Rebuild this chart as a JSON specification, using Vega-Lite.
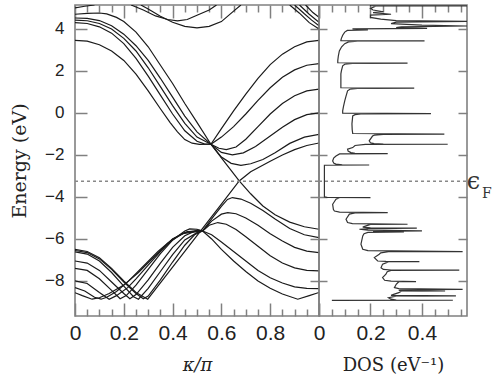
{
 "$schema": "https://vega.github.io/schema/vega-lite/v6.json",
 "autosize": {"type": "pad"},
 "padding": {"left": 9, "top": 3, "right": 5, "bottom": 2},
 "spacing": 0,
 "bounds": "flush",
 "background": "white",
 "config": {
  "view": {"stroke": "#808080", "strokeWidth": 1.6},
  "axis": {"domain": false, "grid": false, "tickColor": "#808080", "tickWidth": 1.5, "labelFont": "Liberation Sans", "labelFontSize": 17, "labelColor": "#222", "titleFont": "DejaVu Serif", "titleFontSize": 18, "titleFontWeight": "normal", "titleColor": "#222", "labelOverlap": false, "labelFlush": false}
 },
 "datasets": {
  "bands": [
   {"b":"D1","k":0,"E":3.46},{"b":"D1","k":0.05,"E":3.42},{"b":"D1","k":0.1,"E":3.25},{"b":"D1","k":0.15,"E":2.95},{"b":"D1","k":0.2,"E":2.5},{"b":"D1","k":0.25,"E":1.85},{"b":"D1","k":0.3,"E":1.05},{"b":"D1","k":0.35,"E":0.2},{"b":"D1","k":0.39,"E":-0.46},{"b":"D1","k":0.42,"E":-0.9},{"b":"D1","k":0.45,"E":-1.27},{"b":"D1","k":0.48,"E":-1.44},{"b":"D1","k":0.51,"E":-1.5},{"b":"D1","k":0.557,"E":-1.49},
   {"b":"D2","k":0,"E":4.3},{"b":"D2","k":0.05,"E":4.26},{"b":"D2","k":0.1,"E":4.1},{"b":"D2","k":0.15,"E":3.8},{"b":"D2","k":0.2,"E":3.3},{"b":"D2","k":0.25,"E":2.6},{"b":"D2","k":0.3,"E":1.75},{"b":"D2","k":0.35,"E":0.85},{"b":"D2","k":0.4,"E":-0.05},{"b":"D2","k":0.45,"E":-0.85},{"b":"D2","k":0.5,"E":-1.35},{"b":"D2","k":0.53,"E":-1.47},{"b":"D2","k":0.557,"E":-1.49},
   {"b":"D3","k":0,"E":4.42},{"b":"D3","k":0.05,"E":4.39},{"b":"D3","k":0.1,"E":4.26},{"b":"D3","k":0.15,"E":4.0},{"b":"D3","k":0.2,"E":3.55},{"b":"D3","k":0.25,"E":2.95},{"b":"D3","k":0.3,"E":2.15},{"b":"D3","k":0.35,"E":1.25},{"b":"D3","k":0.4,"E":0.35},{"b":"D3","k":0.45,"E":-0.5},{"b":"D3","k":0.5,"E":-1.15},{"b":"D3","k":0.557,"E":-1.49},
   {"b":"D4","k":0,"E":4.52},{"b":"D4","k":0.05,"E":4.5},{"b":"D4","k":0.1,"E":4.4},{"b":"D4","k":0.15,"E":4.15},{"b":"D4","k":0.2,"E":3.75},{"b":"D4","k":0.25,"E":3.2},{"b":"D4","k":0.3,"E":2.5},{"b":"D4","k":0.35,"E":1.65},{"b":"D4","k":0.4,"E":0.75},{"b":"D4","k":0.45,"E":-0.15},{"b":"D4","k":0.5,"E":-0.9},{"b":"D4","k":0.557,"E":-1.49},
   {"b":"Lc","k":0,"E":4.7},{"b":"Lc","k":0.05,"E":4.74},{"b":"Lc","k":0.1,"E":4.76},{"b":"Lc","k":0.13,"E":4.72},{"b":"Lc","k":0.17,"E":4.55},{"b":"Lc","k":0.2,"E":4.35},{"b":"Lc","k":0.25,"E":3.85},{"b":"Lc","k":0.3,"E":3.15},{"b":"Lc","k":0.34,"E":2.45},{"b":"Lc","k":0.4,"E":1.4},{"b":"Lc","k":0.45,"E":0.45},{"b":"Lc","k":0.5,"E":-0.45},{"b":"Lc","k":0.557,"E":-1.49},{"b":"Lc","k":0.615,"E":-2.37},{"b":"Lc","k":0.673,"E":-3.24},{"b":"Lc","k":0.72,"E":-3.85},{"b":"Lc","k":0.77,"E":-4.43},{"b":"Lc","k":0.82,"E":-4.85},{"b":"Lc","k":0.88,"E":-5.2},{"b":"Lc","k":0.94,"E":-5.42},{"b":"Lc","k":1,"E":-5.54},
   {"b":"R1","k":0.557,"E":-1.49},{"b":"R1","k":0.6,"E":-0.75},{"b":"R1","k":0.65,"E":0.1},{"b":"R1","k":0.7,"E":0.9},{"b":"R1","k":0.75,"E":1.65},{"b":"R1","k":0.8,"E":2.3},{"b":"R1","k":0.85,"E":2.8},{"b":"R1","k":0.9,"E":3.15},{"b":"R1","k":0.95,"E":3.38},{"b":"R1","k":1,"E":3.46},
   {"b":"R2","k":0.557,"E":-1.49},{"b":"R2","k":0.6,"E":-1.15},{"b":"R2","k":0.65,"E":-0.65},{"b":"R2","k":0.7,"E":-0.05},{"b":"R2","k":0.75,"E":0.6},{"b":"R2","k":0.8,"E":1.2},{"b":"R2","k":0.85,"E":1.7},{"b":"R2","k":0.9,"E":2.05},{"b":"R2","k":0.95,"E":2.27},{"b":"R2","k":1,"E":2.35},
   {"b":"R3","k":0.557,"E":-1.49},{"b":"R3","k":0.59,"E":-1.68},{"b":"R3","k":0.62,"E":-1.75},{"b":"R3","k":0.66,"E":-1.62},{"b":"R3","k":0.7,"E":-1.25},{"b":"R3","k":0.75,"E":-0.65},{"b":"R3","k":0.8,"E":-0.05},{"b":"R3","k":0.85,"E":0.45},{"b":"R3","k":0.9,"E":0.82},{"b":"R3","k":0.95,"E":1.05},{"b":"R3","k":1,"E":1.13},
   {"b":"R4","k":0.557,"E":-1.49},{"b":"R4","k":0.6,"E":-1.88},{"b":"R4","k":0.645,"E":-2.0},{"b":"R4","k":0.69,"E":-1.9},{"b":"R4","k":0.74,"E":-1.6},{"b":"R4","k":0.8,"E":-1.1},{"b":"R4","k":0.85,"E":-0.68},{"b":"R4","k":0.9,"E":-0.32},{"b":"R4","k":0.95,"E":-0.08},{"b":"R4","k":1,"E":0.0},
   {"b":"R5","k":0.557,"E":-1.49},{"b":"R5","k":0.6,"E":-2.1},{"b":"R5","k":0.64,"E":-2.4},{"b":"R5","k":0.68,"E":-2.5},{"b":"R5","k":0.72,"E":-2.42},{"b":"R5","k":0.77,"E":-2.22},{"b":"R5","k":0.82,"E":-1.9},{"b":"R5","k":0.88,"E":-1.45},{"b":"R5","k":0.94,"E":-1.15},{"b":"R5","k":1,"E":-1.02},
   {"b":"Lv","k":0,"E":-6.5},{"b":"Lv","k":0.05,"E":-6.6},{"b":"Lv","k":0.1,"E":-6.9},{"b":"Lv","k":0.15,"E":-7.4},{"b":"Lv","k":0.2,"E":-8.0},{"b":"Lv","k":0.25,"E":-8.55},{"b":"Lv","k":0.298,"E":-8.87},{"b":"Lv","k":0.35,"E":-8.09},{"b":"Lv","k":0.4,"E":-7.34},{"b":"Lv","k":0.45,"E":-6.59},{"b":"Lv","k":0.5,"E":-5.84},{"b":"Lv","k":0.523,"E":-5.5},{"b":"Lv","k":0.6,"E":-4.34},{"b":"Lv","k":0.673,"E":-3.24},{"b":"Lv","k":0.72,"E":-2.8},{"b":"Lv","k":0.76,"E":-2.55},{"b":"Lv","k":0.8,"E":-2.3},{"b":"Lv","k":0.85,"E":-2.0},{"b":"Lv","k":0.9,"E":-1.75},{"b":"Lv","k":0.95,"E":-1.55},{"b":"Lv","k":1,"E":-1.43},
   {"b":"VR1","k":0.523,"E":-5.62},{"b":"VR1","k":0.56,"E":-5.05},{"b":"VR1","k":0.6,"E":-4.45},{"b":"VR1","k":0.625,"E":-4.12},{"b":"VR1","k":0.645,"E":-4.03},{"b":"VR1","k":0.68,"E":-4.1},{"b":"VR1","k":0.72,"E":-4.3},{"b":"VR1","k":0.77,"E":-4.65},{"b":"VR1","k":0.82,"E":-5.05},{"b":"VR1","k":0.88,"E":-5.5},{"b":"VR1","k":0.94,"E":-5.8},{"b":"VR1","k":1,"E":-5.94},
   {"b":"VR2","k":0.523,"E":-5.62},{"b":"VR2","k":0.56,"E":-5.15},{"b":"VR2","k":0.6,"E":-4.82},{"b":"VR2","k":0.626,"E":-4.75},{"b":"VR2","k":0.66,"E":-4.8},{"b":"VR2","k":0.7,"E":-5.0},{"b":"VR2","k":0.75,"E":-5.35},{"b":"VR2","k":0.8,"E":-5.75},{"b":"VR2","k":0.85,"E":-6.1},{"b":"VR2","k":0.9,"E":-6.4},{"b":"VR2","k":0.95,"E":-6.58},{"b":"VR2","k":1,"E":-6.65},
   {"b":"VR3","k":0.523,"E":-5.62},{"b":"VR3","k":0.55,"E":-5.35},{"b":"VR3","k":0.585,"E":-5.22},{"b":"VR3","k":0.62,"E":-5.3},{"b":"VR3","k":0.66,"E":-5.55},{"b":"VR3","k":0.7,"E":-5.9},{"b":"VR3","k":0.75,"E":-6.35},{"b":"VR3","k":0.8,"E":-6.8},{"b":"VR3","k":0.85,"E":-7.15},{"b":"VR3","k":0.9,"E":-7.38},{"b":"VR3","k":0.95,"E":-7.5},{"b":"VR3","k":1,"E":-7.52},
   {"b":"VR4","k":0.523,"E":-5.62},{"b":"VR4","k":0.56,"E":-5.8},{"b":"VR4","k":0.6,"E":-6.15},{"b":"VR4","k":0.65,"E":-6.6},{"b":"VR4","k":0.7,"E":-7.05},{"b":"VR4","k":0.75,"E":-7.5},{"b":"VR4","k":0.8,"E":-7.85},{"b":"VR4","k":0.85,"E":-8.1},{"b":"VR4","k":0.9,"E":-8.28},{"b":"VR4","k":0.95,"E":-8.35},{"b":"VR4","k":1,"E":-8.37},
   {"b":"VR5","k":0.523,"E":-5.62},{"b":"VR5","k":0.56,"E":-6.0},{"b":"VR5","k":0.6,"E":-6.5},{"b":"VR5","k":0.65,"E":-7.05},{"b":"VR5","k":0.7,"E":-7.55},{"b":"VR5","k":0.75,"E":-8.0},{"b":"VR5","k":0.8,"E":-8.35},{"b":"VR5","k":0.85,"E":-8.62},{"b":"VR5","k":0.913,"E":-8.87},{"b":"VR5","k":0.96,"E":-8.7},{"b":"VR5","k":1,"E":-8.55},
   {"b":"VL1","k":0,"E":-6.55},{"b":"VL1","k":0.05,"E":-6.65},{"b":"VL1","k":0.1,"E":-6.95},{"b":"VL1","k":0.15,"E":-7.45},{"b":"VL1","k":0.2,"E":-8.05},{"b":"VL1","k":0.25,"E":-8.6},{"b":"VL1","k":0.28,"E":-8.85},{"b":"VL1","k":0.3,"E":-8.72},{"b":"VL1","k":0.35,"E":-7.95},{"b":"VL1","k":0.4,"E":-7.1},{"b":"VL1","k":0.45,"E":-6.3},{"b":"VL1","k":0.49,"E":-5.8},{"b":"VL1","k":0.523,"E":-5.62},
   {"b":"VL2","k":0,"E":-6.62},{"b":"VL2","k":0.05,"E":-6.72},{"b":"VL2","k":0.1,"E":-7.05},{"b":"VL2","k":0.15,"E":-7.6},{"b":"VL2","k":0.2,"E":-8.25},{"b":"VL2","k":0.24,"E":-8.75},{"b":"VL2","k":0.26,"E":-8.87},{"b":"VL2","k":0.3,"E":-8.35},{"b":"VL2","k":0.35,"E":-7.55},{"b":"VL2","k":0.4,"E":-6.75},{"b":"VL2","k":0.45,"E":-6.05},{"b":"VL2","k":0.5,"E":-5.7},{"b":"VL2","k":0.523,"E":-5.62},
   {"b":"VL3","k":0,"E":-7.05},{"b":"VL3","k":0.05,"E":-7.15},{"b":"VL3","k":0.1,"E":-7.5},{"b":"VL3","k":0.15,"E":-8.05},{"b":"VL3","k":0.2,"E":-8.6},{"b":"VL3","k":0.225,"E":-8.85},{"b":"VL3","k":0.25,"E":-8.65},{"b":"VL3","k":0.3,"E":-7.95},{"b":"VL3","k":0.35,"E":-7.15},{"b":"VL3","k":0.4,"E":-6.4},{"b":"VL3","k":0.45,"E":-5.85},{"b":"VL3","k":0.5,"E":-5.58},{"b":"VL3","k":0.523,"E":-5.62},
   {"b":"VL4","k":0,"E":-7.4},{"b":"VL4","k":0.05,"E":-7.5},{"b":"VL4","k":0.1,"E":-7.9},{"b":"VL4","k":0.15,"E":-8.45},{"b":"VL4","k":0.185,"E":-8.85},{"b":"VL4","k":0.21,"E":-8.7},{"b":"VL4","k":0.25,"E":-8.2},{"b":"VL4","k":0.3,"E":-7.45},{"b":"VL4","k":0.35,"E":-6.7},{"b":"VL4","k":0.4,"E":-6.05},{"b":"VL4","k":0.45,"E":-5.62},{"b":"VL4","k":0.47,"E":-5.52},{"b":"VL4","k":0.5,"E":-5.54},{"b":"VL4","k":0.523,"E":-5.62},
   {"b":"VL5","k":0,"E":-8.0},{"b":"VL5","k":0.05,"E":-8.12},{"b":"VL5","k":0.1,"E":-8.55},{"b":"VL5","k":0.14,"E":-8.87},{"b":"VL5","k":0.17,"E":-8.7},{"b":"VL5","k":0.216,"E":-8.32},{"b":"VL5","k":0.25,"E":-7.9},{"b":"VL5","k":0.3,"E":-7.25},{"b":"VL5","k":0.35,"E":-6.6},{"b":"VL5","k":0.4,"E":-6.0},{"b":"VL5","k":0.45,"E":-5.7},{"b":"VL5","k":0.5,"E":-5.6},{"b":"VL5","k":0.523,"E":-5.62},
   {"b":"VL6","k":0,"E":-8.32},{"b":"VL6","k":0.04,"E":-8.48},{"b":"VL6","k":0.08,"E":-8.78},{"b":"VL6","k":0.107,"E":-8.87},{"b":"VL6","k":0.13,"E":-8.78},{"b":"VL6","k":0.17,"E":-8.5},{"b":"VL6","k":0.22,"E":-8.0},{"b":"VL6","k":0.28,"E":-7.3},{"b":"VL6","k":0.34,"E":-6.6},{"b":"VL6","k":0.4,"E":-6.0},{"b":"VL6","k":0.46,"E":-5.65},{"b":"VL6","k":0.523,"E":-5.62},
   {"b":"VL7","k":0,"E":-8.56},{"b":"VL7","k":0.03,"E":-8.7},{"b":"VL7","k":0.07,"E":-8.87},{"b":"VL7","k":0.1,"E":-8.8},{"b":"VL7","k":0.14,"E":-8.6},{"b":"VL7","k":0.2,"E":-8.2},{"b":"VL7","k":0.26,"E":-7.6},{"b":"VL7","k":0.32,"E":-6.9},{"b":"VL7","k":0.38,"E":-6.2},{"b":"VL7","k":0.44,"E":-5.75},{"b":"VL7","k":0.523,"E":-5.62},
   {"b":"T1","k":0.27,"E":5.14},{"b":"T1","k":0.3,"E":4.95},{"b":"T1","k":0.35,"E":4.6},{"b":"T1","k":0.4,"E":4.32},{"b":"T1","k":0.45,"E":4.12},{"b":"T1","k":0.5,"E":4.05},{"b":"T1","k":0.55,"E":4.12},{"b":"T1","k":0.6,"E":4.35},{"b":"T1","k":0.65,"E":4.85},{"b":"T1","k":0.68,"E":5.14},
   {"b":"T2","k":0.23,"E":5.14},{"b":"T2","k":0.28,"E":4.9},{"b":"T2","k":0.33,"E":4.62},{"b":"T2","k":0.38,"E":4.45},{"b":"T2","k":0.42,"E":4.38},{"b":"T2","k":0.46,"E":4.45},{"b":"T2","k":0.5,"E":4.65},{"b":"T2","k":0.55,"E":4.9},{"b":"T2","k":0.58,"E":5.14},
   {"b":"T3","k":0,"E":5.0},{"b":"T3","k":0.04,"E":5.08},{"b":"T3","k":0.08,"E":5.14},
   {"b":"T4","k":0.88,"E":5.14},{"b":"T4","k":0.92,"E":4.75},{"b":"T4","k":0.96,"E":4.3},{"b":"T4","k":1,"E":4.0},
   {"b":"T5","k":0.9,"E":5.14},{"b":"T5","k":0.94,"E":4.72},{"b":"T5","k":0.97,"E":4.42},{"b":"T5","k":1,"E":4.15},
   {"b":"T6","k":0.92,"E":5.14},{"b":"T6","k":0.96,"E":4.7},{"b":"T6","k":1,"E":4.32},
   {"b":"T7","k":0.945,"E":5.14},{"b":"T7","k":0.975,"E":4.78},{"b":"T7","k":1,"E":4.55}
  ],
  "dos": [
   {"E":5.14,"D":0.2},{"E":5.11,"D":0.2},{"E":5.1,"D":0.58},{"E":5.08,"D":0.22},{"E":4.98,"D":0.2},{"E":4.9,"D":0.21},{"E":4.82,"D":0.25},{"E":4.78,"D":0.21},{"E":4.7,"D":0.28},{"E":4.66,"D":0.2},{"E":4.55,"D":0.2},{"E":4.47,"D":0.24},{"E":4.4,"D":0.3},{"E":4.36,"D":0.58},{"E":4.32,"D":0.3},{"E":4.25,"D":0.28},{"E":4.18,"D":0.4},{"E":4.14,"D":0.58},{"E":4.1,"D":0.32},{"E":4.06,"D":0.3},{"E":4.03,"D":0.42},{"E":4.0,"D":0.13},{"E":3.96,"D":0.19},{"E":3.93,"D":0.11},{"E":3.85,"D":0.1},{"E":3.7,"D":0.092},{"E":3.55,"D":0.087},{"E":3.46,"D":0.085},{"E":3.44,"D":0.085},{"E":3.43,"D":0.41},
   {"E":3.42,"D":0.15},{"E":3.38,"D":0.115},{"E":3.3,"D":0.1},{"E":3.15,"D":0.088},{"E":2.95,"D":0.079},{"E":2.7,"D":0.075},{"E":2.5,"D":0.073},{"E":2.39,"D":0.073},{"E":2.37,"D":0.344},
   {"E":2.36,"D":0.13},{"E":2.32,"D":0.1},{"E":2.24,"D":0.092},{"E":2.0,"D":0.087},{"E":1.86,"D":0.085},{"E":1.5,"D":0.085},{"E":1.2,"D":0.085},{"E":1.18,"D":0.37},
   {"E":1.17,"D":0.15},{"E":1.13,"D":0.12},{"E":1.05,"D":0.111},{"E":0.8,"D":0.105},{"E":0.57,"D":0.1},{"E":0.3,"D":0.095},{"E":0.1,"D":0.092},{"E":-0.01,"D":0.092},{"E":-0.03,"D":0.435},
   {"E":-0.04,"D":0.17},{"E":-0.08,"D":0.14},{"E":-0.14,"D":0.131},{"E":-0.52,"D":0.128},{"E":-0.8,"D":0.129},{"E":-0.98,"D":0.131},{"E":-1.01,"D":0.487},
   {"E":-1.02,"D":0.25},{"E":-1.06,"D":0.215},{"E":-1.1,"D":0.208},{"E":-1.33,"D":0.195},{"E":-1.42,"D":0.2},{"E":-1.46,"D":0.214},{"E":-1.48,"D":0.25},{"E":-1.49,"D":0.5},
   {"E":-1.5,"D":0.18},{"E":-1.55,"D":0.14},{"E":-1.65,"D":0.131},{"E":-1.73,"D":0.111},{"E":-1.82,"D":0.113},{"E":-1.89,"D":0.124},{"E":-1.92,"D":0.14},{"E":-1.94,"D":0.267},
   {"E":-1.95,"D":0.08},{"E":-2.05,"D":0.066},{"E":-2.15,"D":0.057},{"E":-2.29,"D":0.053},{"E":-2.4,"D":0.058},{"E":-2.44,"D":0.066},{"E":-2.47,"D":0.09},{"E":-2.48,"D":0.195},
   {"E":-2.49,"D":0.021},{"E":-4.0,"D":0.021},{"E":-4.02,"D":0.03},{"E":-4.03,"D":0.2},
   {"E":-4.04,"D":0.08},{"E":-4.11,"D":0.066},{"E":-4.35,"D":0.053},{"E":-4.6,"D":0.056},{"E":-4.67,"D":0.06},{"E":-4.72,"D":0.08},{"E":-4.75,"D":0.267},
   {"E":-4.76,"D":0.14},{"E":-4.82,"D":0.118},{"E":-5.06,"D":0.105},{"E":-5.22,"D":0.111},{"E":-5.27,"D":0.13},{"E":-5.3,"D":0.344},
   {"E":-5.31,"D":0.2},{"E":-5.38,"D":0.183},{"E":-5.44,"D":0.17},{"E":-5.47,"D":0.2},{"E":-5.49,"D":0.38},{"E":-5.51,"D":0.2},{"E":-5.54,"D":0.157},{"E":-5.58,"D":0.19},{"E":-5.62,"D":0.4},{"E":-5.64,"D":0.21},{"E":-5.67,"D":0.33},{"E":-5.69,"D":0.19},
   {"E":-5.75,"D":0.175},{"E":-5.86,"D":0.17},{"E":-6.25,"D":0.163},{"E":-6.49,"D":0.17},{"E":-6.56,"D":0.19},{"E":-6.6,"D":0.558},
   {"E":-6.61,"D":0.27},{"E":-6.66,"D":0.24},{"E":-6.73,"D":0.234},{"E":-6.89,"D":0.215},{"E":-7.05,"D":0.228},{"E":-7.07,"D":0.26},{"E":-7.08,"D":0.39},
   {"E":-7.09,"D":0.27},{"E":-7.2,"D":0.247},{"E":-7.37,"D":0.241},{"E":-7.45,"D":0.25},{"E":-7.48,"D":0.28},{"E":-7.49,"D":0.545},
   {"E":-7.5,"D":0.28},{"E":-7.56,"D":0.265},{"E":-7.68,"D":0.26},{"E":-7.84,"D":0.247},{"E":-7.97,"D":0.255},{"E":-8.01,"D":0.28},{"E":-8.03,"D":0.377},
   {"E":-8.04,"D":0.31},{"E":-8.1,"D":0.305},{"E":-8.16,"D":0.3},{"E":-8.32,"D":0.293},{"E":-8.37,"D":0.31},{"E":-8.4,"D":0.558},
   {"E":-8.41,"D":0.33},{"E":-8.45,"D":0.31},{"E":-8.48,"D":0.49},{"E":-8.49,"D":0.32},{"E":-8.56,"D":0.31},{"E":-8.64,"D":0.29},{"E":-8.69,"D":0.28},{"E":-8.71,"D":0.532},{"E":-8.72,"D":0.3},{"E":-8.8,"D":0.27},{"E":-8.87,"D":0.28},{"E":-8.91,"D":0.3},{"E":-8.92,"D":0.52},{"E":-8.93,"D":0.05}
  ]
 },
 "hconcat": [
  {
   "width": 244, "height": 311,
   "layer": [
    {
     "data": {"name": "bands"},
     "mark": {"type": "line", "strokeWidth": 1.2, "color": "#1a1a1a", "clip": true},
     "encoding": {
      "x": {"field": "k", "type": "quantitative", "scale": {"domain": [0, 1], "nice": false, "zero": false},
       "axis": {"orient": "bottom", "values": [0,0.05,0.1,0.15,0.2,0.25,0.3,0.35,0.4,0.45,0.5,0.55,0.6,0.65,0.7,0.75,0.8,0.85,0.9,0.95,1],
        "tickSize": {"condition": {"test": "abs(datum.value*5-round(datum.value*5))<0.001", "value": -13}, "value": -7},
        "labelPadding": 19, "labelFontSize": 21, "labelExpr": "abs(datum.value*5-round(datum.value*5))<0.001 && datum.value<0.9 ? format(datum.value,'.1~f') : ''",
        "title": "κ/π", "titleFontStyle": "italic", "titlePadding": 7}},
      "y": {"field": "E", "type": "quantitative", "scale": {"domain": [-9.67, 5.14], "nice": false, "zero": false},
       "axis": {"orient": "left", "values": [-8,-6,-4,-2,0,2,4], "tickSize": -12, "labelPadding": 23, "title": "Energy (eV)", "titleFontSize": 19, "titlePadding": 15}},
      "detail": {"field": "b"},
      "order": {"field": "k"}
     }
    },
    {
     "data": {"values": [{}]},
     "mark": {"type": "rule", "strokeDash": [3, 3], "color": "#888", "strokeWidth": 1.5},
     "encoding": {
      "x": {"datum": 0, "type": "quantitative",
       "axis": {"orient": "top", "values": [0,0.05,0.1,0.15,0.2,0.25,0.3,0.35,0.4,0.45,0.5,0.55,0.6,0.65,0.7,0.75,0.8,0.85,0.9,0.95,1],
        "tickSize": {"condition": {"test": "abs(datum.value*5-round(datum.value*5))<0.001", "value": -13}, "value": -7},
        "labels": false, "title": null}},
      "x2": {"datum": 1},
      "y": {"datum": -3.25, "type": "quantitative",
       "axis": {"orient": "right", "values": [-8,-6,-4,-2,0,2,4], "tickSize": -9, "labels": false, "title": null}}
     }
    }
   ],
   "resolve": {"axis": {"x": "independent", "y": "independent"}}
  },
  {
   "width": 148, "height": 311,
   "layer": [
    {
     "data": {"name": "dos"},
     "mark": {"type": "line", "strokeWidth": 1.2, "color": "#333", "clip": true},
     "encoding": {
      "x": {"field": "D", "type": "quantitative", "scale": {"domain": [0, 0.575], "nice": false, "zero": false},
       "axis": {"orient": "bottom", "values": [0,0.05,0.1,0.15,0.2,0.25,0.3,0.35,0.4,0.45,0.5,0.55],
        "tickSize": {"condition": {"test": "abs(datum.value*5-round(datum.value*5))<0.001", "value": -13}, "value": -7},
        "labelPadding": 19, "labelFontSize": 21, "labelExpr": "abs(datum.value*5-round(datum.value*5))<0.001 && datum.value<0.45 ? format(datum.value,'.1~f') : ''",
        "title": "DOS (eV⁻¹)", "titlePadding": 7}},
      "y": {"field": "E", "type": "quantitative", "scale": {"domain": [-9.67, 5.14], "nice": false, "zero": false},
       "axis": {"orient": "left", "values": [-8,-6,-4,-2,0,2,4], "tickSize": -8, "labels": false, "title": null}},
      "order": {"field": "E", "sort": "descending"}
     }
    },
    {
     "data": {"values": [{}]},
     "mark": {"type": "rule", "strokeDash": [3, 3], "color": "#888", "strokeWidth": 1.5},
     "encoding": {
      "x": {"datum": 0, "type": "quantitative",
       "axis": {"orient": "top", "values": [0,0.05,0.1,0.15,0.2,0.25,0.3,0.35,0.4,0.45,0.5,0.55],
        "tickSize": {"condition": {"test": "abs(datum.value*5-round(datum.value*5))<0.001", "value": -13}, "value": -7},
        "labels": false, "title": null}},
      "x2": {"datum": 0.575},
      "y": {"datum": -3.25, "type": "quantitative",
       "axis": {"orient": "right", "values": [-8,-6,-4,-2,0,2,4], "tickSize": -9, "labels": false, "title": null}}
     }
    },
    {
     "data": {"values": [{}]},
     "mark": {"type": "text", "text": "ϵ", "font": "DejaVu Serif", "fontSize": 24, "color": "#333", "baseline": "middle", "align": "center"},
     "encoding": {
      "x": {"datum": 0.6, "type": "quantitative", "axis": null},
      "y": {"datum": -3.3, "type": "quantitative", "axis": null}
     }
    },
    {
     "data": {"values": [{}]},
     "mark": {"type": "text", "text": "F", "font": "DejaVu Serif", "fontSize": 14, "color": "#333", "baseline": "middle", "align": "center"},
     "encoding": {
      "x": {"datum": 0.652, "type": "quantitative", "axis": null},
      "y": {"datum": -3.86, "type": "quantitative", "axis": null}
     }
    }
   ],
   "resolve": {"axis": {"x": "independent", "y": "independent"}}
  }
 ]
}
